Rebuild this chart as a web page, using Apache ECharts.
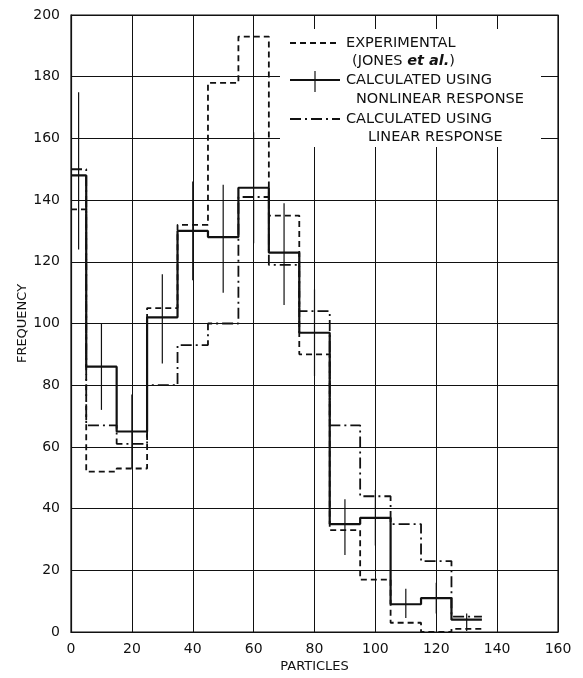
<!DOCTYPE html>
<html>
<head>
<meta charset="utf-8">
<script src="https://cdn.jsdelivr.net/npm/echarts@6/dist/echarts.min.js"></script>
<style>
  html, body { margin: 0; padding: 0; background: #fff; }
  #chart { width: 583px; height: 678px; }
</style>
</head>
<body>
<div id="chart"></div>
<script>
// bin edges (first bin is half width), values per bin
const binEdges = [0, 5, 15, 25, 35, 45, 55, 65, 75, 85, 95, 105, 115, 125, 135];
const experimental = [137, 52, 53, 105, 132, 178, 193, 135, 90, 33, 17, 3, 0, 1];
const nonlinear = [148, 86, 65, 102, 130, 128, 144, 123, 97, 35, 37, 9, 11, 4];
const linear = [150, 67, 61, 80, 93, 100, 141, 119, 104, 67, 44, 35, 23, 5];

// error bars on the nonlinear curve
const errX = [2.5, 10, 20, 30, 40, 50, 60, 70, 80, 90, 100, 110, 120, 130];
const errLow = [124, 72, 53, 87, 114, 110, 126, 106, 83, 25, 28, 4.5, 6, 0.3];
const errHigh = [175, 100, 77, 116, 146, 145, 162, 139, 111, 43, 46, 14, 16, 6];

const xTicks = [0, 20, 40, 60, 80, 100, 120, 140, 160];
const yTicks = [0, 20, 40, 60, 80, 100, 120, 140, 160, 180, 200];

const ink = '#111';
const font = 'DejaVu Sans';
const legendFont = '14.5px "DejaVu Sans"';

// histogram outline: one point per left edge, plus the last right edge
const toSteps = vals => binEdges.map((x, i) => [x, vals[Math.min(i, vals.length - 1)]]);

const legendText = (x, y, text) => ({
  type: 'text', x, y, z: 11,
  style: { text, font: legendFont, fill: ink, verticalAlign: 'middle' }
});

const chart = echarts.init(document.getElementById('chart'));

chart.setOption({
  animation: false,
  backgroundColor: '#fff',
  grid: { left: 71, right: 25, top: 15, bottom: 44, show: true, borderColor: ink, borderWidth: 1.2 },
  xAxis: {
    type: 'value',
    min: xTicks[0],
    max: xTicks[xTicks.length - 1],
    interval: 20,
    name: 'PARTICLES',
    nameLocation: 'middle',
    nameGap: 28,
    nameMoveOverlap: false,
    nameTextStyle: { fontFamily: font, fontSize: 13, color: ink },
    axisLine: { show: true, lineStyle: { color: ink, width: 1.2 } },
    axisTick: { show: false },
    axisLabel: { fontFamily: font, fontSize: 14, color: ink, margin: 10 },
    splitLine: { show: true, lineStyle: { color: ink, width: 1 } }
  },
  yAxis: {
    type: 'value',
    min: yTicks[0],
    max: yTicks[yTicks.length - 1],
    interval: 20,
    name: 'FREQUENCY',
    nameLocation: 'middle',
    nameGap: 42,
    nameMoveOverlap: false,
    nameTextStyle: { fontFamily: font, fontSize: 13, color: ink },
    axisLine: { show: true, lineStyle: { color: ink, width: 1.2 } },
    axisTick: { show: false },
    axisLabel: { fontFamily: font, fontSize: 14, color: ink, margin: 11 },
    splitLine: { show: true, lineStyle: { color: ink, width: 1 } }
  },
  series: [
    {
      name: 'Experimental',
      type: 'line',
      step: 'end',
      data: toSteps(experimental),
      symbol: 'none',
      lineStyle: { color: ink, width: 1.8, type: [6, 4] },
      z: 3
    },
    {
      name: 'Linear',
      type: 'line',
      step: 'end',
      data: toSteps(linear),
      symbol: 'none',
      lineStyle: { color: ink, width: 1.8, type: [11, 4, 2, 4] },
      z: 3
    },
    {
      name: 'Nonlinear',
      type: 'line',
      step: 'end',
      data: toSteps(nonlinear),
      symbol: 'none',
      lineStyle: { color: ink, width: 2.2 },
      z: 4
    },
    {
      name: 'Nonlinear error',
      type: 'custom',
      data: errX.map((x, i) => [x, errLow[i], errHigh[i]]),
      renderItem: (params, api) => {
        const lo = api.coord([api.value(0), api.value(1)]);
        const hi = api.coord([api.value(0), api.value(2)]);
        return {
          type: 'line',
          shape: { x1: lo[0], y1: lo[1], x2: hi[0], y2: hi[1] },
          style: { stroke: ink, lineWidth: 1.2 }
        };
      },
      z: 4
    }
  ],
  graphic: [
    { type: 'rect', shape: { x: 280, y: 29, width: 261, height: 118 }, style: { fill: '#fff' }, z: 10 },
    { type: 'line', shape: { x1: 290, y1: 43, x2: 340, y2: 43 }, style: { stroke: ink, lineWidth: 1.8, lineDash: [6, 4] }, z: 11 },
    { type: 'line', shape: { x1: 290, y1: 80, x2: 340, y2: 80 }, style: { stroke: ink, lineWidth: 2.2 }, z: 11 },
    { type: 'line', shape: { x1: 315, y1: 71, x2: 315, y2: 92 }, style: { stroke: ink, lineWidth: 1.2 }, z: 11 },
    { type: 'line', shape: { x1: 290, y1: 119, x2: 340, y2: 119 }, style: { stroke: ink, lineWidth: 1.8, lineDash: [11, 4, 2, 4] }, z: 11 },
    legendText(346, 43, 'EXPERIMENTAL'),
    {
      type: 'text', x: 352, y: 61, z: 11,
      style: {
        text: '(JONES {i|et al.})',
        font: legendFont, fill: ink, verticalAlign: 'middle',
        rich: { i: { fontStyle: 'italic', fontWeight: 'bold', fontFamily: font, fontSize: 14.5 } }
      }
    },
    legendText(346, 80, 'CALCULATED USING'),
    legendText(356, 99, 'NONLINEAR RESPONSE'),
    legendText(346, 119, 'CALCULATED USING'),
    legendText(368, 137, 'LINEAR RESPONSE')
  ]
});
</script>
</body>
</html>
